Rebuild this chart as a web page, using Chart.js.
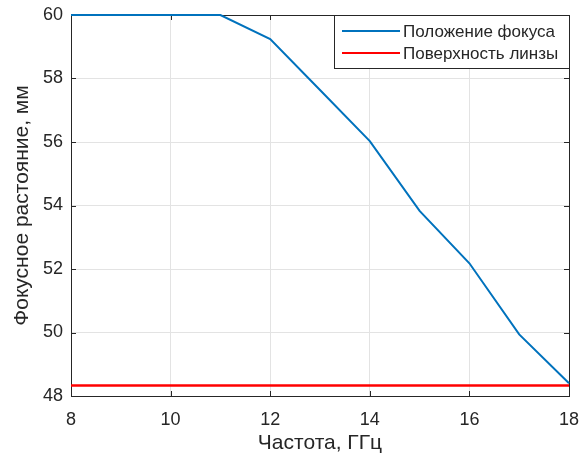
<!DOCTYPE html>
<html>
<head>
<meta charset="utf-8">
<script src="https://cdn.jsdelivr.net/npm/chart.js@4"></script>
<style>
  html, body { margin: 0; padding: 0; background: #fff; }
  #wrap { width: 587px; height: 457px; }
</style>
</head>
<body>
<div id="wrap"><canvas id="focusChart" width="587" height="457"></canvas></div>
<script>
// values
var freq = [8, 9, 10, 11, 12, 13, 14, 15, 16, 17, 18];
var focusPos = [60, 60, 60, 60, 59.24, 57.64, 56.03, 53.83, 52.18, 49.94, 48.4];
var lensSurface = [48.33, 48.33, 48.33, 48.33, 48.33, 48.33, 48.33, 48.33, 48.33, 48.33, 48.33];
var seriesNames = ['Положение фокуса', 'Поверхность линзы'];
var xTicks = [8, 10, 12, 14, 16, 18];
var yTicks = [48, 50, 52, 54, 56, 58, 60];

var fontFam = '"Liberation Sans", Arial, sans-serif';
var inkColor = '#262626';

function toPoints(xs, ys) {
  var pts = [];
  for (var i = 0; i < xs.length; i++) pts.push({ x: xs[i], y: ys[i] });
  return pts;
}

// box and inward ticks under the lines, legend on top (matlab look)
var boxPlugin = {
  id: 'boxPlugin',
  beforeDatasetsDraw: function (chart) {
    var ctx = chart.ctx;
    var a = chart.chartArea;
    var xs = chart.scales.x, ys = chart.scales.y;
    ctx.save();
    ctx.strokeStyle = inkColor;
    ctx.lineWidth = 1;
    ctx.beginPath();
    xTicks.forEach(function (v) {
      var px = Math.round(xs.getPixelForValue(v)) + 0.5;
      ctx.moveTo(px, a.bottom); ctx.lineTo(px, a.bottom - 5);
      ctx.moveTo(px, a.top); ctx.lineTo(px, a.top + 5);
    });
    yTicks.forEach(function (v) {
      var py = Math.round(ys.getPixelForValue(v)) + 0.5;
      ctx.moveTo(a.left, py); ctx.lineTo(a.left + 5, py);
      ctx.moveTo(a.right, py); ctx.lineTo(a.right - 5, py);
    });
    ctx.stroke();
    ctx.strokeRect(Math.round(a.left) + 0.5, Math.round(a.top) + 0.5,
      Math.round(a.right - a.left), Math.round(a.bottom - a.top));
    ctx.restore();
  },
  afterDraw: function (chart) {
    var ctx = chart.ctx;
    var a = chart.chartArea;
    ctx.save();
    var lx = Math.round(a.right) - 235, ly = Math.round(a.top), lw = 235, lh = 53;
    ctx.fillStyle = '#fff';
    ctx.fillRect(lx, ly, lw, lh);
    ctx.strokeStyle = inkColor;
    ctx.lineWidth = 1;
    ctx.strokeRect(lx + 0.5, ly + 0.5, lw, lh);
    ctx.font = '17px ' + fontFam;
    ctx.textBaseline = 'middle';
    chart.data.datasets.forEach(function (ds, i) {
      var rowY = ly + 16 + i * 22;
      ctx.strokeStyle = ds.borderColor;
      ctx.lineWidth = 2;
      ctx.beginPath();
      ctx.moveTo(lx + 8, rowY); ctx.lineTo(lx + 66, rowY);
      ctx.stroke();
      ctx.fillStyle = inkColor;
      ctx.fillText(ds.label, lx + 69, rowY + 1);
    });
    ctx.restore();
  }
};

new Chart(document.getElementById('focusChart').getContext('2d'), {
  type: 'line',
  data: {
    datasets: [
      { label: seriesNames[0], data: toPoints(freq, focusPos), borderColor: '#0072BD', borderWidth: 2, pointRadius: 0, tension: 0, clip: false },
      { label: seriesNames[1], data: toPoints(freq, lensSurface), borderColor: '#FF0000', borderWidth: 2.5, pointRadius: 0, tension: 0, clip: false }
    ]
  },
  options: {
    responsive: false,
    animation: false,
    layout: { padding: { left: 0, top: 15, right: 18, bottom: 0 } },
    plugins: { legend: { display: false }, tooltip: { enabled: false } },
    scales: {
      x: {
        type: 'linear', min: 8, max: 18,
        afterBuildTicks: function (s) { s.ticks = xTicks.map(function (v) { return { value: v }; }); },
        afterFit: function (s) { s.height = 61; s.paddingLeft = 0; s.paddingRight = 0; },
        grid: { color: '#e3e3e3', drawTicks: false },
        border: { display: false },
        ticks: { color: inkColor, font: { family: fontFam, size: 18 }, padding: 13, maxRotation: 0 },
        title: { display: true, text: 'Частота, ГГц', color: inkColor, font: { family: fontFam, size: 21 }, padding: { top: 0, bottom: 1 } }
      },
      y: {
        type: 'linear', min: 48, max: 60,
        afterBuildTicks: function (s) { s.ticks = yTicks.map(function (v) { return { value: v }; }); },
        afterFit: function (s) { s.width = 71; s.paddingTop = 0; s.paddingBottom = 0; },
        grid: { color: '#e3e3e3', drawTicks: false },
        border: { display: false },
        ticks: { color: inkColor, font: { family: fontFam, size: 18 }, padding: 8 },
        title: { display: true, text: 'Фокусное растояние, мм', color: inkColor, font: { family: fontFam, size: 21 }, padding: { top: 10, bottom: 0 } }
      }
    }
  },
  plugins: [boxPlugin]
});
</script>
</body>
</html>
